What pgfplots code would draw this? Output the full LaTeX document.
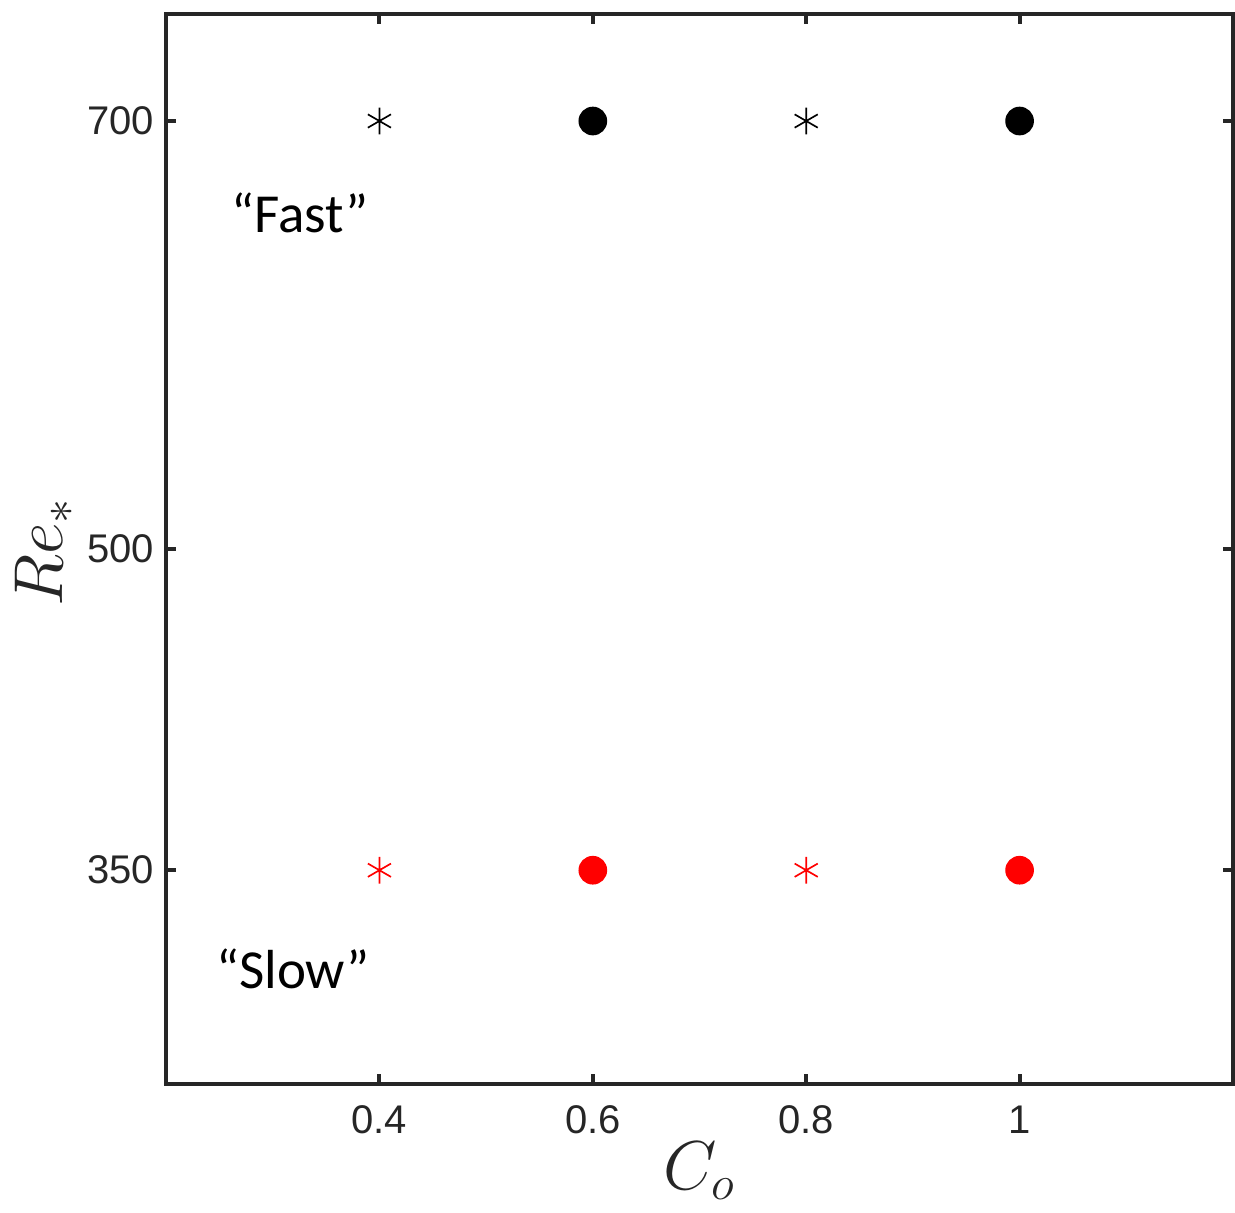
\documentclass[border=0pt]{standalone}
\usepackage{pgfplots}
\pgfplotsset{compat=1.18}
\usepackage{fontspec}
\setmainfont{Liberation Sans}
\newfontfamily\calib{Carlito}
\definecolor{axgray}{RGB}{38,38,38}

\begin{document}
\begin{tikzpicture}
\begin{axis}[
    width=320pt, height=321pt,
    scale only axis,
    xmin=0.2, xmax=1.2,
    ymin=250, ymax=750,
    xtick={0.4,0.6,0.8,1},
    ytick={350,500,700},
    tick align=inside,
    major tick length=3pt,
    axis line style={axgray, line width=1.2pt},
    every tick/.style={axgray, line width=1.2pt},
    tick label style={font=\fontsize{12}{14}\selectfont, text=axgray},
    xticklabel style={yshift=-3pt},
    /pgf/number format/assume math mode=true,
    xlabel={$C_o$},
    ylabel={$Re_*$},
    label style={font=\fontsize{20}{22}\selectfont, text=axgray},
    xlabel style={at={(axis description cs:0.5,-0.081)}, anchor=center, inner sep=0pt},
    ylabel style={at={(axis description cs:-0.114,0.497)}, anchor=center},
    clip=false,
]
% asterisks at C_o = 0.4, 0.8
\addplot[only marks, mark=asterisk, mark size=4pt, black, mark options={line width=0.5pt}]
    coordinates {(0.4,700) (0.8,700)};
\addplot[only marks, mark=asterisk, mark size=4pt, red, mark options={line width=0.5pt}]
    coordinates {(0.4,350) (0.8,350)};
% filled circles at C_o = 0.6, 1.0
\addplot[only marks, mark=*, mark size=4.1pt, black]
    coordinates {(0.6,700) (1.0,700)};
\addplot[only marks, mark=*, mark size=4.1pt, red, mark options={fill=red, draw=red}]
    coordinates {(0.6,350) (1.0,350)};

\node[font=\calib\fontsize{16.5}{18}\selectfont] at (axis cs:0.3256,657) {“Fast”};
\node[font=\calib\fontsize{16.5}{18}\selectfont] at (axis cs:0.319,304) {“Slow”};
\coordinate (bl) at (rel axis cs:0,0);
\coordinate (tr) at (rel axis cs:1,1);
\end{axis}
\pgfresetboundingbox
\path ([xshift=-49.8pt,yshift=-38.4pt]bl) rectangle ([xshift=0.6pt,yshift=4.2pt]tr);
\end{tikzpicture}
\end{document}
